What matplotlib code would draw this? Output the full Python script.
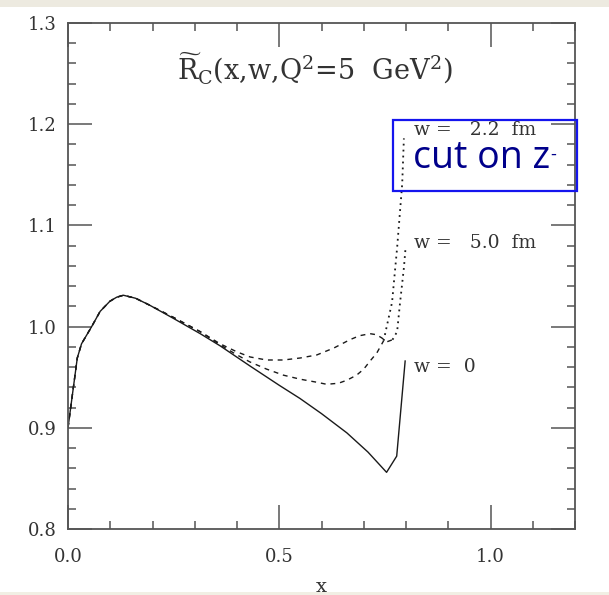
import matplotlib
matplotlib.use("Agg")
import matplotlib.pyplot as plt
from matplotlib.patches import Rectangle
from matplotlib.ticker import MultipleLocator

# ---- data ----
x_w0 = [0.0, 0.022, 0.032, 0.056, 0.076, 0.099, 0.115, 0.131, 0.16, 0.194, 0.25, 0.313, 0.36,
        0.431, 0.5, 0.549, 0.6, 0.66, 0.71, 0.754, 0.778, 0.798]
y_w0 = [0.900, 0.969, 0.983, 1.000, 1.015, 1.025, 1.029, 1.031, 1.028, 1.021, 1.008, 0.993, 0.981,
        0.961, 0.942, 0.929, 0.914, 0.895, 0.876, 0.856, 0.872, 0.966]

x_w50_dash = [0.0, 0.022, 0.032, 0.056, 0.076, 0.099, 0.115, 0.131, 0.16, 0.194, 0.25, 0.313, 0.36,
              0.40, 0.431, 0.47, 0.51, 0.55, 0.589, 0.63, 0.667, 0.69, 0.715, 0.73, 0.742, 0.755, 0.768]
y_w50_dash = [0.900, 0.969, 0.983, 1.000, 1.015, 1.025, 1.029, 1.031, 1.028, 1.021, 1.009, 0.995, 0.983,
              0.975, 0.970, 0.967, 0.967, 0.969, 0.972, 0.979, 0.987, 0.991, 0.993, 0.992, 0.989, 0.985, 0.987]
x_w50_dot = [0.768, 0.779, 0.786, 0.795, 0.799]
y_w50_dot = [0.987, 0.995, 1.024, 1.058, 1.078]

x_w22_dash = [0.0, 0.022, 0.032, 0.056, 0.076, 0.099, 0.115, 0.131, 0.16, 0.194, 0.25, 0.313, 0.36,
              0.40, 0.431, 0.47, 0.51, 0.55, 0.589, 0.612, 0.64, 0.66, 0.683, 0.70, 0.715, 0.731, 0.747]
y_w22_dash = [0.900, 0.969, 0.983, 1.000, 1.015, 1.025, 1.029, 1.031, 1.028, 1.021, 1.009, 0.995, 0.982,
              0.972, 0.965, 0.958, 0.952, 0.948, 0.945, 0.943, 0.944, 0.947, 0.952, 0.958, 0.966, 0.974, 0.986]
x_w22_dot = [0.747, 0.767, 0.779, 0.791, 0.795]
y_w22_dot = [0.986, 1.024, 1.078, 1.141, 1.186]

xticks = [0.0, 0.5, 1.0]
xticklabels = ["0.0", "0.5", "1.0"]
yticks = [0.8, 0.9, 1.0, 1.1, 1.2, 1.3]
yticklabels = ["0.8", "0.9", "1.0", "1.1", "1.2", "1.3"]

curve_labels = ["w =   2.2  fm", "w =   5.0  fm", "w =  0"]
label_y = [1.194, 1.083, 0.960]
title = r"$\widetilde{\mathrm{R}}_{\mathrm{C}}$(x,w,Q$^2$=5  GeV$^2$)"
box_text = "cut on z"

plt.rcParams["mathtext.fontset"] = "dejavuserif"
W, H = 609, 595
fig = plt.figure(figsize=(W / 100, H / 100), dpi=100)
fig.patch.set_facecolor("white")

# top/bottom bands
fig.patches.append(Rectangle((0, 1 - 7 / H), 1, 7 / H, transform=fig.transFigure,
                             facecolor="#EDEAE0", edgecolor="none", zorder=0))
fig.patches.append(Rectangle((0, 0), 1, 3 / H, transform=fig.transFigure,
                             facecolor="#F1EFE4", edgecolor="none", zorder=0))

ax = fig.add_axes([68 / W, 1 - 529 / H, 507 / W, 506 / H])
ax.set_xlim(0, 1.2)
ax.set_ylim(0.8, 1.3)

lc = "#1a1a1a"
ax.plot(x_w0, y_w0, color=lc, lw=1.0)
ax.plot(x_w50_dash, y_w50_dash, color=lc, lw=1.0, dashes=(3.5, 3.5))
ax.plot(x_w50_dot, y_w50_dot, color=lc, lw=1.3, dashes=(1.0, 2.3))
ax.plot(x_w22_dash, y_w22_dash, color=lc, lw=1.0, dashes=(3.5, 3.5))
ax.plot(x_w22_dot, y_w22_dot, color=lc, lw=1.3, dashes=(1.0, 2.3))

sc = "#555555"
for s in ax.spines.values():
    s.set_color(sc)
    s.set_linewidth(1.3)

ax.set_xticks(xticks)
ax.set_xticklabels(xticklabels)
ax.set_yticks(yticks)
ax.set_yticklabels(yticklabels)
ax.xaxis.set_minor_locator(MultipleLocator(0.1))
ax.yaxis.set_minor_locator(MultipleLocator(0.02))
ax.tick_params(which="both", direction="in", top=True, right=True, color=sc, width=1.1)
ax.tick_params(which="major", length=17)
ax.tick_params(which="minor", length=5.5)
ax.tick_params(axis="y", which="major", pad=8)
ax.tick_params(axis="x", which="major", pad=14)
for lab in ax.get_xticklabels() + ax.get_yticklabels():
    lab.set_fontfamily("DejaVu Serif")
    lab.set_fontsize(13)
    lab.set_color("#333333")

ax.set_xlabel("x", fontfamily="DejaVu Serif", fontsize=14, color="#333333", labelpad=8)

ax.text(0.585, 1.244, title, fontfamily="DejaVu Serif", fontsize=19.5, color="#333333",
        ha="center", va="baseline")

for lab, yy in zip(curve_labels, label_y):
    ax.text(0.818, yy, lab, fontfamily="DejaVu Serif", fontsize=13.5, color="#333333",
            ha="left", va="center")

# blue annotation box
fig.patches.append(Rectangle((393 / W, 1 - 191 / H), 184 / W, 71 / H, transform=fig.transFigure,
                             facecolor="none", edgecolor="#1515EE", lw=1.6, zorder=5))
fig.text(413 / W, 1 - 168 / H, box_text, fontfamily="Open Sans", fontsize=27,
         color="#00008B", ha="left", va="baseline")
fig.text(550 / W, 1 - 155 / H, "-", fontfamily="Open Sans", fontsize=13,
         color="#00008B", ha="left", va="center")

fig.savefig("out.png", dpi=100)
